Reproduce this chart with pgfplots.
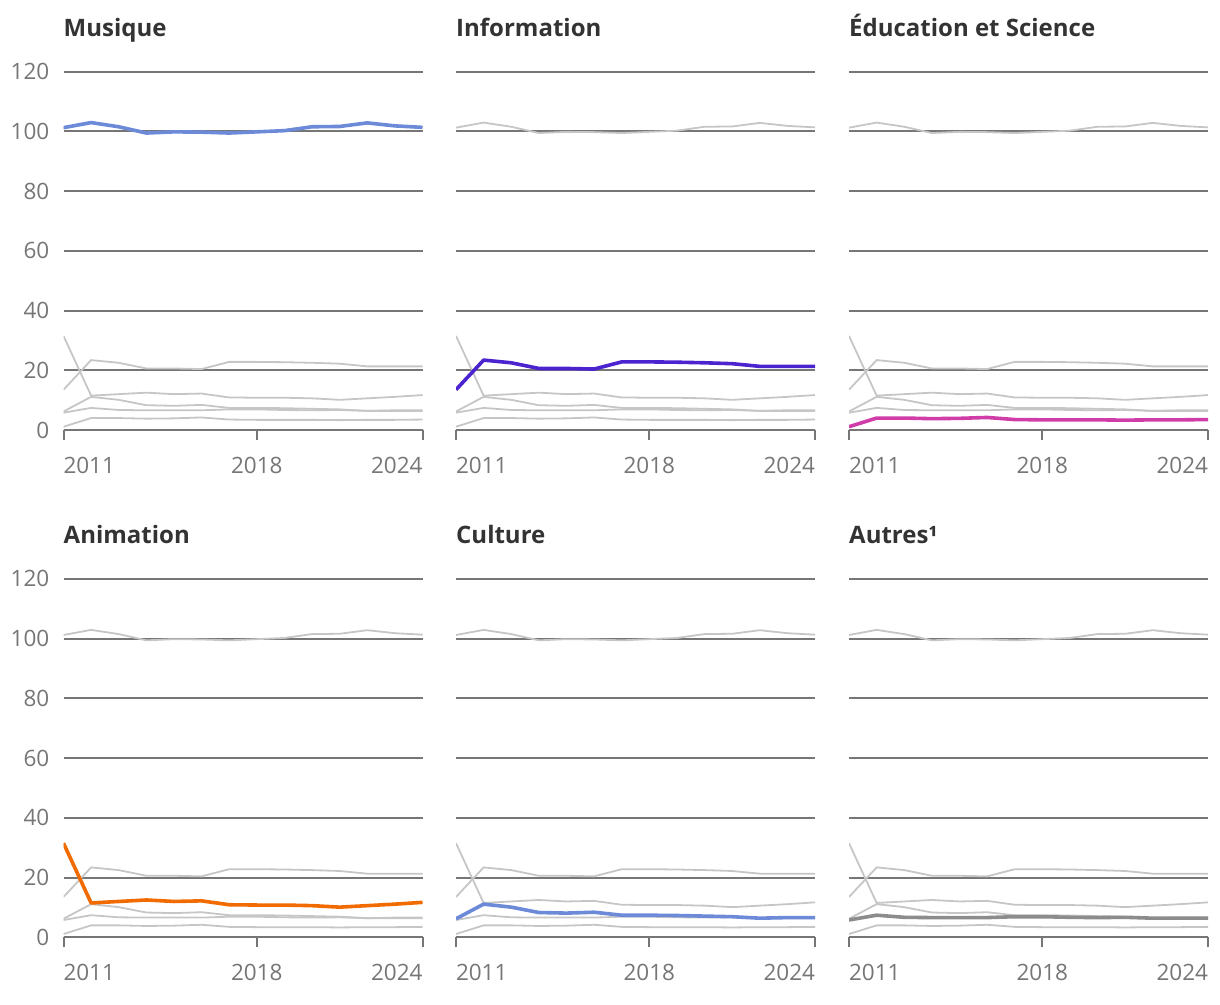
\documentclass[border=0pt]{standalone}
\usepackage{fontspec}
\setmainfont{Open Sans}
\usepackage{pgfplots}
\usepackage{pgfplotstable}
\pgfplotsset{compat=1.18}
\definecolor{gridc}{HTML}{767676}
\definecolor{labc}{HTML}{767676}
\definecolor{titc}{HTML}{333333}
\definecolor{bgl}{HTML}{C6C6C6}
\definecolor{cmus}{HTML}{6D8AD8}
\definecolor{cinfo}{HTML}{4B24CF}
\definecolor{cedu}{HTML}{D03CA8}
\definecolor{canim}{HTML}{F26B00}
\definecolor{ccult}{HTML}{6D8AD8}
\definecolor{caut}{HTML}{8C8C8C}

\pgfplotstableread{
year mus info edu anim cult aut
2011 101.2 13.5 1.1 31.5 6.2 5.8
2012 102.9 23.4 4.0 11.5 11.1 7.4
2013 101.5 22.5 4.0 12.0 10.1 6.7
2014 99.4 20.6 3.8 12.5 8.3 6.6
2015 99.8 20.6 3.9 12.0 8.1 6.6
2016 99.7 20.4 4.2 12.2 8.4 6.6
2017 99.4 22.8 3.5 10.9 7.4 6.9
2018 99.8 22.8 3.4 10.8 7.4 6.9
2019 100.2 22.7 3.4 10.8 7.3 6.7
2020 101.5 22.5 3.4 10.6 7.1 6.6
2021 101.6 22.2 3.3 10.1 6.9 6.7
2022 102.8 21.3 3.4 10.6 6.4 6.4
2023 101.8 21.3 3.4 11.1 6.6 6.4
2024 101.3 21.3 3.5 11.7 6.6 6.4
}\data

\pgfplotsset{
  panel/.style={
    scale only axis, width=359pt, height=358.5pt,
    anchor=south west,
    xmin=2011, xmax=2024, ymin=0, ymax=120,
    ytick={0,20,...,120}, xtick={2011,2018,2024},
    ymajorgrids, grid style={gridc, line width=2pt},
    axis x line*=bottom, axis y line*=left,
    x axis line style={gridc, line width=2pt, -},
    y axis line style={draw=none},
    ytick style={draw=none},
    xtick style={gridc, line width=2pt},
    tick align=outside, major tick length=10pt,
    tick label style={font=\fontsize{22.5}{26}\selectfont, text=labc, inner sep=0pt},
    /pgf/number format/assume math mode=true,
    /pgf/number format/1000 sep={},
    xticklabel={\ifcase\ticknum\relax\makebox[0pt][l]{\pgfmathprintnumber{\tick}}\or\pgfmathprintnumber{\tick}\or\makebox[0pt][r]{\pgfmathprintnumber{\tick}}\fi},
    xticklabel style={anchor=north, yshift=-17pt},
    yticklabel style={anchor=east, xshift=-4pt},
    title style={at={(0,1)}, anchor=base west, yshift=29pt, inner sep=0pt,
      font=\bfseries\fontsize{24}{28}\selectfont, text=titc},
  },
  bg/.style={bgl, line width=1.8pt},
  hl/.style={#1, line width=3.6pt, line join=round},
}

\newcommand\panel[5]{%
  \begin{axis}[panel, at={(#1pt,-#2pt)}, title={#3}, #5]
    \addplot[bg] table[x=year,y=mus]{\data};
    \addplot[bg] table[x=year,y=info]{\data};
    \addplot[bg] table[x=year,y=edu]{\data};
    \addplot[bg] table[x=year,y=anim]{\data};
    \addplot[bg] table[x=year,y=cult]{\data};
    \addplot[bg] table[x=year,y=aut]{\data};
    #4
  \end{axis}}

\begin{document}
\begin{tikzpicture}
\useasboundingbox (0,0) rectangle (1220pt,-1004pt);
\panel{63.5}{430}{Musique}{\addplot[hl=cmus] table[x=year,y=mus]{\data};}{}
\panel{456}{430}{Information}{\addplot[hl=cinfo] table[x=year,y=info]{\data};}{yticklabels={}}
\panel{849}{430}{Éducation et Science}{\addplot[hl=cedu] table[x=year,y=edu]{\data};}{yticklabels={}}
\panel{63.5}{937.3}{Animation}{\addplot[hl=canim] table[x=year,y=anim]{\data};}{}
\panel{456}{937.3}{Culture}{\addplot[hl=ccult] table[x=year,y=cult]{\data};}{yticklabels={}}
\panel{849}{937.3}{Autres¹}{\addplot[hl=caut] table[x=year,y=aut]{\data};}{yticklabels={}}
\end{tikzpicture}
\end{document}
